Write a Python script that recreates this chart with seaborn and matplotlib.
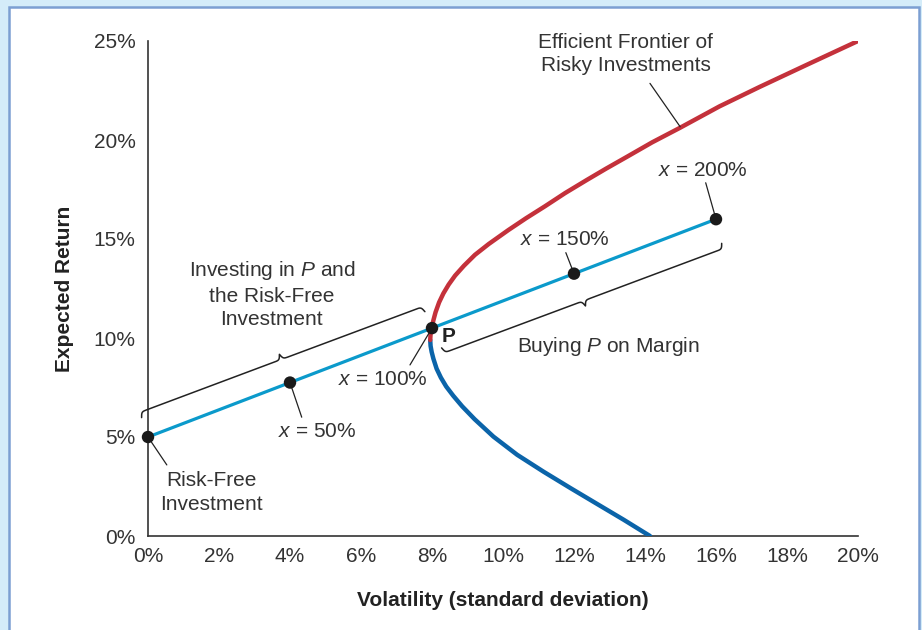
import numpy as np
import seaborn as sns
import matplotlib.pyplot as plt
from matplotlib.patches import Rectangle

sns.set_theme(style="white")
plt.rcParams["font.family"] = ["Liberation Sans", "DejaVu Sans"]
plt.rcParams["mathtext.fontset"] = "custom"
plt.rcParams["mathtext.it"] = "Liberation Sans:italic"
plt.rcParams["mathtext.rm"] = "Liberation Sans"
plt.rcParams["mathtext.bf"] = "Liberation Sans:bold"

# frontier (volatility %, expected return %)
upper_sigma = [7.95, 7.96, 7.99, 8.04, 8.1, 8.2, 8.32, 8.47, 8.65, 8.9, 9.21, 9.6, 10.15,
               10.65, 11.18, 11.75, 12.36, 12.9, 13.48, 14.2, 14.99, 16.1, 17.24, 18.56, 20.0]
upper_mu = [9.9, 10.2, 10.5, 10.9, 11.3, 11.8, 12.25, 12.7, 13.15, 13.65, 14.2, 14.75, 15.45,
            16.05, 16.65, 17.32, 17.98, 18.55, 19.14, 19.88, 20.62, 21.7, 22.69, 23.8, 25.0]
lower_sigma = [7.95, 7.96, 7.99, 8.04, 8.13, 8.25, 8.4, 8.6, 8.85, 9.2, 9.73, 10.4,
               11.14, 11.9, 12.64, 13.4, 14.14]
lower_mu = [9.9, 9.6, 9.3, 8.95, 8.45, 8.0, 7.55, 7.08, 6.55, 5.9, 5.02, 4.1,
            3.25, 2.42, 1.63, 0.82, 0.0]

# combinations of P and the risk-free investment
cml_sigma = [0, 4, 8, 12, 16]
cml_mu = [5, 7.75, 10.5, 13.25, 16]
cml_weights = ["0%", "50%", "100%", "150%", "200%"]

x_ticks = [0, 2, 4, 6, 8, 10, 12, 14, 16, 18, 20]
y_ticks = [0, 5, 10, 15, 20, 25]

RED = "#c4313b"
DARKBLUE = "#0b64a9"
CYAN = "#0b9acb"
TXT = "#333333"
FS = 15

fig = plt.figure(figsize=(9.22, 6.30), dpi=100, facecolor="#d4ecf9")
panel = Rectangle((9 / 922, -0.02), 910 / 922, 1.0 - 7 / 630 + 0.02,
                  transform=fig.transFigure, facecolor="white",
                  edgecolor="#7c9fd2", linewidth=1.8, zorder=-10)
fig.patches.append(panel)
ax = fig.add_axes([148 / 922, 94 / 630, 710 / 922, 495 / 630])
ax.set_facecolor("none")
ax.set_zorder(1)

sns.lineplot(x=lower_sigma, y=lower_mu, sort=False, estimator=None, color=DARKBLUE,
             linewidth=3.2, ax=ax, solid_capstyle="round", solid_joinstyle="round", zorder=3)
sns.lineplot(x=upper_sigma, y=upper_mu, sort=False, estimator=None, color=RED,
             linewidth=3.2, ax=ax, solid_capstyle="round", solid_joinstyle="round", zorder=3)
sns.lineplot(x=cml_sigma, y=cml_mu, sort=False, estimator=None, color=CYAN,
             linewidth=2.3, ax=ax, zorder=4)
sns.scatterplot(x=cml_sigma, y=cml_mu, color="#1a1a1a", s=80, edgecolor="none",
                ax=ax, zorder=6, clip_on=False)

ax.set_xlim(0, 20)
ax.set_ylim(0, 25)
ax.set_xticks(x_ticks)
ax.set_xticklabels([f"{v}%" for v in x_ticks])
ax.set_yticks(y_ticks)
ax.set_yticklabels([f"{v}%" for v in y_ticks])
ax.tick_params(direction="in", length=7, width=1, color=TXT, labelcolor=TXT, labelsize=FS)
ax.tick_params(axis="y", pad=9)
ax.tick_params(axis="x", pad=8)
for side in ["top", "right"]:
    ax.spines[side].set_visible(False)
for side in ["left", "bottom"]:
    ax.spines[side].set_color(TXT)
    ax.spines[side].set_linewidth(1.2)

ax.set_xlabel("Volatility (standard deviation)", fontsize=FS, fontweight="bold", color="#222222")
ax.set_ylabel("Expected Return", fontsize=FS, fontweight="bold", color="#222222")
ax.xaxis.set_label_coords(0.5, -0.112)
ax.yaxis.set_label_coords(-0.104, 0.5)


def pointer(p0, p1):
    ax.plot([p0[0], p1[0]], [p0[1], p1[1]], color="#222222", lw=0.9, zorder=5, clip_on=False)


def brace(p0, p1, side, h=11, beta=1.0):
    a = ax.transData.transform(p0)
    b = ax.transData.transform(p1)
    d = b - a
    L = np.hypot(*d)
    u = d / L
    n = np.array([-u[1], u[0]]) * side
    t = np.linspace(0, L / 2, 300)
    half = 1 / (1 + np.exp(-beta * t)) + 1 / (1 + np.exp(-beta * (t - L / 2))) - 0.5
    s = np.concatenate([t, L - t[::-1][1:]])
    y = np.concatenate([half, half[::-1][1:]]) * h
    pts = a + np.outer(s, u) + np.outer(y, n)
    data = ax.transData.inverted().transform(pts)
    ax.plot(data[:, 0], data[:, 1], color="#222222", lw=1.1, zorder=5, clip_on=False)


def label(x, y, s, **kw):
    ax.text(x, y, s, fontsize=FS, color=TXT, ha="center", va="center", linespacing=1.3, **kw)


label(13.45, 24.34, "Efficient Frontier of\nRisky Investments")
pointer((14.14, 22.86), (14.99, 20.67))

label(15.62, 18.48, f"$x$ = {cml_weights[4]}")
pointer((15.71, 17.84), (cml_sigma[4], cml_mu[4]))
label(11.73, 14.95, f"$x$ = {cml_weights[3]}")
pointer((11.77, 14.31), (cml_sigma[3], cml_mu[3]))
label(6.61, 7.88, f"$x$ = {cml_weights[2]}")
pointer((7.38, 8.64), (cml_sigma[2], cml_mu[2]))
label(4.75, 5.27, f"$x$ = {cml_weights[1]}")
pointer((4.33, 6.0), (cml_sigma[1], cml_mu[1]))
label(1.80, 2.2, "Risk-Free\nInvestment")
pointer((0.53, 3.59), (cml_sigma[0], cml_mu[0]))

label(3.49, 12.22, "Investing in $P$ and\nthe Risk-Free\nInvestment")
label(12.96, 9.55, "Buying $P$ on Margin")
ax.text(8.48, 10.1, "P", fontsize=FS, fontweight="bold", color="#222222", ha="center", va="center")

brace((-0.18, 5.98), (7.8, 11.33), side=1)
brace((8.27, 9.5), (16.16, 14.78), side=-1)

fig.savefig("out.png", dpi=100, facecolor=fig.get_facecolor())
